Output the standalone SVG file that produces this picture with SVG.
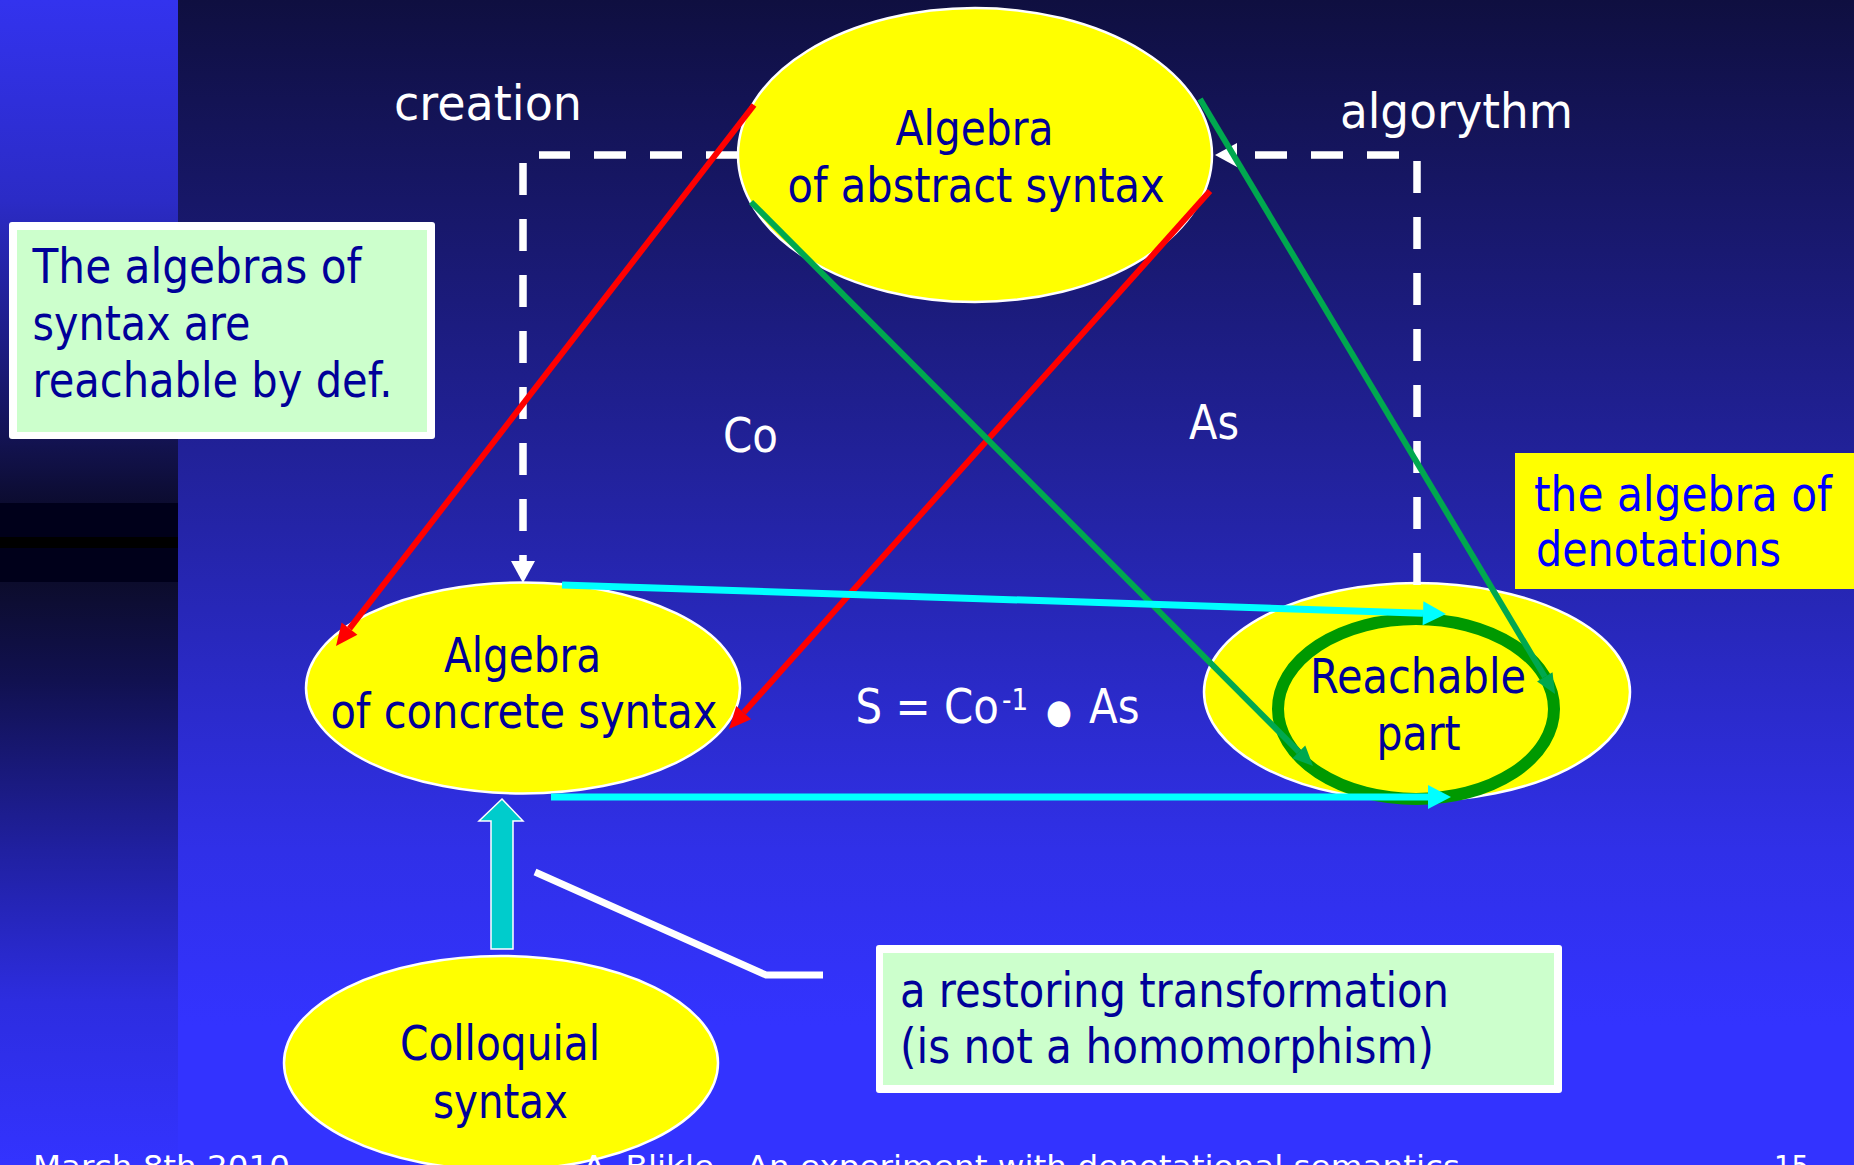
<svg xmlns="http://www.w3.org/2000/svg" width="1854" height="1165" viewBox="0 0 1854 1165">
<defs>
<linearGradient id="bgMain" x1="0" y1="0" x2="0" y2="1165" gradientUnits="userSpaceOnUse">
<stop offset="0" stop-color="#0f0f40"/>
<stop offset="0.43" stop-color="#2323a2"/>
<stop offset="0.73" stop-color="#3030e8"/>
<stop offset="0.88" stop-color="#3333ff"/>
<stop offset="1" stop-color="#3333ff"/>
</linearGradient>
<linearGradient id="bgLeftTop" x1="0" y1="0" x2="0" y2="503" gradientUnits="userSpaceOnUse">
<stop offset="0" stop-color="#3333ee"/>
<stop offset="0.4" stop-color="#2b2bc6"/>
<stop offset="0.7" stop-color="#1c1c80"/>
<stop offset="1" stop-color="#0c0c30"/>
</linearGradient>
<linearGradient id="bgLeftBot" x1="0" y1="582" x2="0" y2="1165" gradientUnits="userSpaceOnUse">
<stop offset="0" stop-color="#0c0c2c"/>
<stop offset="0.17" stop-color="#111150"/>
<stop offset="0.46" stop-color="#2020a0"/>
<stop offset="0.72" stop-color="#2d2de0"/>
<stop offset="1" stop-color="#3333ff"/>
</linearGradient>
<marker id="mRed" markerUnits="userSpaceOnUse" markerWidth="24" markerHeight="22" refX="0" refY="10" orient="auto" overflow="visible">
<path d="M0,0 L22,10 L0,20 z" fill="#ff0000"/>
</marker>
<marker id="mGreen" markerUnits="userSpaceOnUse" markerWidth="22" markerHeight="20" refX="0" refY="9" orient="auto" overflow="visible">
<path d="M0,0 L20,9 L0,18 z" fill="#00a84f"/>
</marker>
<marker id="mCyan" markerUnits="userSpaceOnUse" markerWidth="25" markerHeight="26" refX="0" refY="12" orient="auto" overflow="visible">
<path d="M0,0 L23,12 L0,24 z" fill="#00ffff"/>
</marker>
<marker id="mWhite" markerUnits="userSpaceOnUse" markerWidth="24" markerHeight="26" refX="0" refY="12" orient="auto" overflow="visible">
<path d="M0,0 L22,12 L0,24 z" fill="#ffffff"/>
</marker>
<style>
.ell{fill:#ffff00;stroke:#ffffff;stroke-width:2.5}
.nt{font-family:"DejaVu Sans","Liberation Sans",sans-serif;font-size:48px;fill:#000099}
.wt{font-family:"DejaVu Sans","Liberation Sans",sans-serif;font-size:48px;fill:#ffffff}
.ft{font-family:"DejaVu Sans","Liberation Sans",sans-serif;font-size:30px;fill:#ffffff}
.red{stroke:#ff0000;stroke-width:6;fill:none;marker-end:url(#mRed)}
.grn{stroke:#00a84f;stroke-width:6;fill:none;marker-end:url(#mGreen)}
.cyn{stroke:#00ffff;stroke-width:7;fill:none;marker-end:url(#mCyan)}
.dash{stroke:#ffffff;stroke-width:7.5;fill:none;stroke-dasharray:32 24}
</style>
</defs>

<g id="background">
<rect x="178" y="0" width="1676" height="1165" fill="url(#bgMain)"/>
<rect x="0" y="0" width="178" height="503" fill="url(#bgLeftTop)"/>
<rect x="0" y="503" width="178" height="79" fill="#00001a"/>
<rect x="0" y="537" width="178" height="11" fill="#000000"/>
<rect x="0" y="582" width="178" height="583" fill="url(#bgLeftBot)"/>
</g>

<g id="node-abstract">
<ellipse class="ell" cx="975" cy="155" rx="237" ry="147"/>
<text class="nt" x="895.5" y="145" textLength="158" lengthAdjust="spacingAndGlyphs">Algebra</text>
<text class="nt" x="787.5" y="202" textLength="377" lengthAdjust="spacingAndGlyphs">of abstract syntax</text>
</g>

<g id="node-concrete">
<ellipse class="ell" cx="523" cy="688" rx="217" ry="105.5"/>
<text class="nt" x="444" y="672" textLength="157" lengthAdjust="spacingAndGlyphs">Algebra</text>
<text class="nt" x="330.4" y="728" textLength="387" lengthAdjust="spacingAndGlyphs">of concrete syntax</text>
</g>

<g id="node-denotations">
<ellipse class="ell" cx="1417" cy="692" rx="213" ry="109"/>
<ellipse cx="1416" cy="709" rx="138" ry="90" fill="none" stroke="#009900" stroke-width="12"/>
<text class="nt" x="1310" y="693" textLength="216" lengthAdjust="spacingAndGlyphs">Reachable</text>
<text class="nt" x="1376.6" y="750" textLength="84" lengthAdjust="spacingAndGlyphs">part</text>
</g>

<g id="node-colloquial">
<ellipse class="ell" cx="501" cy="1063" rx="217" ry="107"/>
<text class="nt" x="400" y="1060" textLength="200" lengthAdjust="spacingAndGlyphs">Colloquial</text>
<text class="nt" x="433" y="1118" textLength="135" lengthAdjust="spacingAndGlyphs">syntax</text>
</g>

<g id="note-reachable">
<rect x="9" y="222" width="426" height="217" rx="3" fill="#ffffff"/>
<rect x="17" y="230" width="410" height="202" fill="#ccffcc"/>
<text class="nt" x="32.5" y="283" textLength="329" lengthAdjust="spacingAndGlyphs">The algebras of</text>
<text class="nt" x="32.5" y="340" textLength="218" lengthAdjust="spacingAndGlyphs">syntax are</text>
<text class="nt" x="32.5" y="397" textLength="360" lengthAdjust="spacingAndGlyphs">reachable by def.</text>
</g>

<g id="note-denotations">
<rect x="1515" y="453" width="339" height="136" fill="#ffff00"/>
<text class="nt" x="1534" y="511" textLength="298" lengthAdjust="spacingAndGlyphs" style="fill:#0000ff">the algebra of</text>
<text class="nt" x="1536" y="566" textLength="245" lengthAdjust="spacingAndGlyphs" style="fill:#0000ff">denotations</text>
</g>

<g id="note-restoring">
<rect x="876" y="945" width="686" height="148" rx="3" fill="#ffffff"/>
<rect x="883" y="953" width="671" height="132" fill="#ccffcc"/>
<text class="nt" x="900" y="1007" textLength="549" lengthAdjust="spacingAndGlyphs">a restoring transformation</text>
<text class="nt" x="900" y="1063" textLength="534" lengthAdjust="spacingAndGlyphs">(is not a homomorphism)</text>
</g>

<g id="connectors">
<path class="dash" d="M738,155 H539"/>
<path class="dash" d="M523,163 V561" marker-end="url(#mWhite)"/>
<path class="dash" d="M1417,585 V161"/>
<path class="dash" d="M1399,155 H1237" marker-end="url(#mWhite)"/>
<line class="red" x1="754" y1="105" x2="349.5" y2="628.6"/>
<line class="red" x1="1210" y1="191" x2="743.7" y2="712.6"/>
<line class="grn" x1="751" y1="202" x2="1298.9" y2="751.8"/>
<line class="grn" x1="1200" y1="99" x2="1544.8" y2="676.8"/>
<line class="cyn" x1="562" y1="585" x2="1423" y2="613.2"/>
<line class="cyn" x1="551" y1="797" x2="1428" y2="797"/>
<polygon points="502,799 523,821 513,821 513,949 491,949 491,821 479,821" fill="#00cccc" stroke="#ffffff" stroke-width="1.5"/>
<polyline points="535,872 766,975 823,975" fill="none" stroke="#ffffff" stroke-width="7"/>
</g>

<g id="labels">
<text class="wt" x="394" y="120" textLength="188" lengthAdjust="spacingAndGlyphs">creation</text>
<text class="wt" x="1340" y="128" textLength="233" lengthAdjust="spacingAndGlyphs">algorythm</text>
<text class="wt" x="723" y="452" textLength="55" lengthAdjust="spacingAndGlyphs">Co</text>
<text class="wt" x="1189" y="439" textLength="50" lengthAdjust="spacingAndGlyphs">As</text>
<g transform="translate(855.5,723) scale(0.874,1)">
<text class="wt" x="0" y="0">S = Co<tspan x="167.7" y="-13" style="font-size:30px">-1</tspan><tspan x="218" y="0" style="font-size:34px">●</tspan><tspan x="267.2" y="0">As</tspan></text>
</g>
</g>

<g id="footer">
<text class="ft" x="33" y="1177" textLength="257" lengthAdjust="spacingAndGlyphs">March 8th 2010</text>
<text class="ft" x="583" y="1177" textLength="877" lengthAdjust="spacingAndGlyphs">A. Blikle - An experiment with denotational semantics</text>
<text class="ft" x="1774" y="1177" textLength="35" lengthAdjust="spacingAndGlyphs">15</text>
</g>
</svg>
